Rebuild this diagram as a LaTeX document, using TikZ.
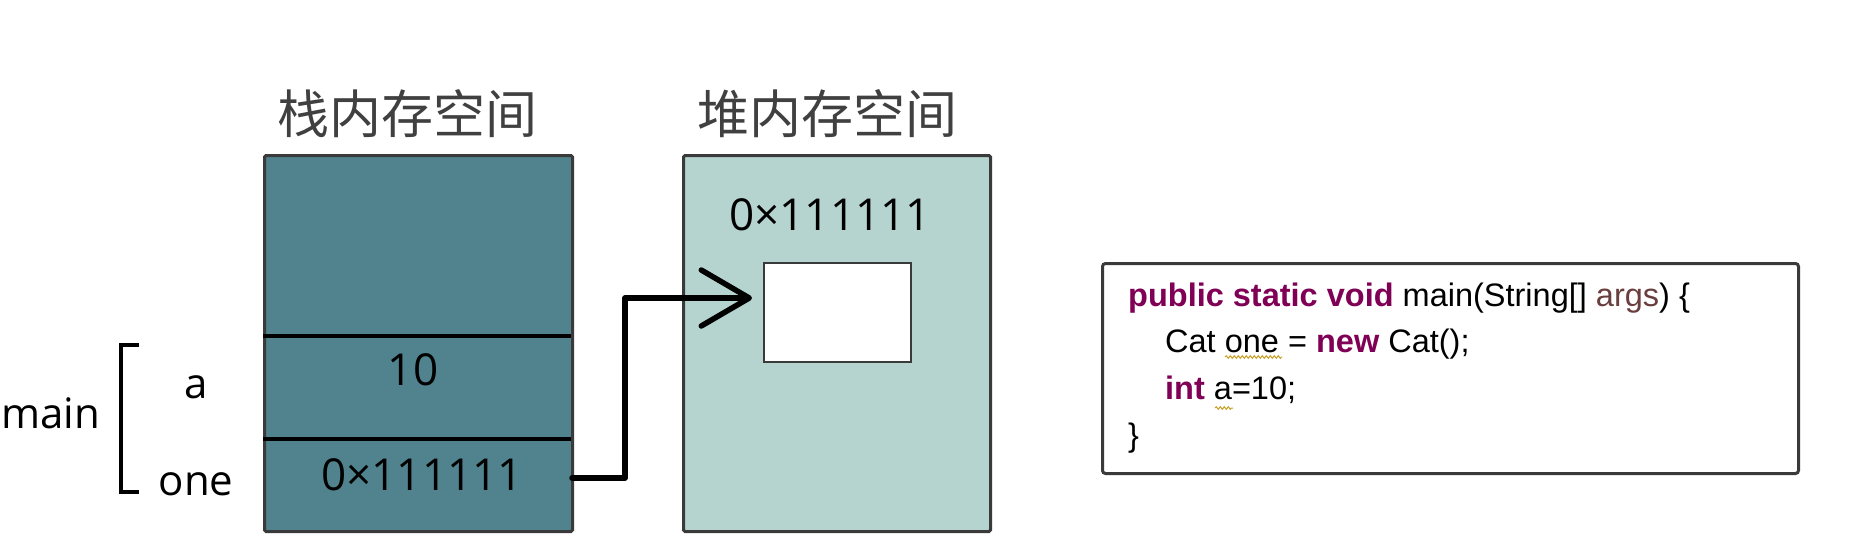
\documentclass[tikz,border=0pt]{standalone}
\usepackage{fontspec}
\usetikzlibrary{arrows.meta,decorations.pathmorphing}
\newfontfamily\cjk{Noto Sans CJK SC}
\newfontfamily\lab{Open Sans}
\newfontfamily\codef{Liberation Sans}
\definecolor{stackfill}{HTML}{50838D}
\definecolor{heapfill}{HTML}{B5D4D0}
\definecolor{framec}{HTML}{3A3A3A}
\definecolor{kw}{HTML}{7F0055}
\definecolor{varc}{HTML}{6A3E3E}
\definecolor{warn}{HTML}{C9A227}
\definecolor{titlec}{HTML}{404040}
\begin{document}
\begin{tikzpicture}[x=1pt,y=-1pt,
  mem/.style={draw=framec, line width=3pt, rounded corners=1.5pt, inner sep=0pt, anchor=north west},
  ttl/.style={font=\cjk\fontsize{52}{60}\selectfont, text=titlec, inner sep=0pt},
  lbl/.style={font=\lab\fontsize{42}{50}\selectfont, inner sep=0pt, anchor=base},
  val/.style={font=\lab\fontsize{44}{52}\selectfont, inner sep=0pt},
  codeline/.style={font=\codef\fontsize{32.5}{40}\selectfont, inner sep=0pt, anchor=base west},
  divider/.style={line width=3.5pt, black},
  ptrarrow/.style={line width=5.5pt, line cap=round, line join=round, -{Straight Barb[length=48pt, width=56pt, line cap=round, line join=round]}},
  squig/.style={warn, line width=1pt, decorate, decoration={snake, amplitude=1.3pt, segment length=4pt}}]
\fill[white] (0,0) rectangle (1861,538);
\useasboundingbox (0,0) rectangle (1861,538);

% titles
\node[ttl] (stitle) at (407,113.5) {栈内存空间};
\node[ttl] (htitle) at (827,113.5) {堆内存空间};

% stack
\node[mem, fill=stackfill, minimum width=308pt, minimum height=376pt] (stack) at (263,154) {};
\draw[divider] (263,336) -- (571,336);
\draw[divider] (263,439) -- (571,439);
\node[val] (v10) at (413,370) {10};
\node[val] (vref) at (422,475) {0×111111};

% heap
\node[mem, fill=heapfill, minimum width=307pt, minimum height=376pt] (heap) at (682,154) {};
\node[val] (haddr) at (830,215) {0×111111};
\node[draw=framec, line width=2pt, fill=white, inner sep=0pt, minimum width=147pt, minimum height=99pt, anchor=north west] (obj) at (763,262) {};

% labels and bracket
\node[lbl] (mainlbl) at (51,428) {main};
\node[lbl] (albl) at (196,398) {a};
\node[lbl] (onelbl) at (196,495) {one};
\draw[line width=4pt] (139,345) -- (121,345) -- (121,492) -- (139,492);

% pointer arrow
\coordinate (ptr) at (572,478);
\coordinate (tgt) at (752,298);
\draw[ptrarrow] (ptr) -- (625,478) -- (625,298) -- (tgt);

% code box
\node[draw=framec, line width=3pt, rounded corners=3pt, fill=white, inner sep=0pt, minimum width=696pt, minimum height=210pt, anchor=north west] (codebox) at (1101,262) {};
\node[codeline] (c1) at (1128,306) {\textbf{\color{kw}public static void} main(String[] {\color{varc}args}) \{};
\node[codeline] (c2) at (1165,352) {Cat one = \textbf{\color{kw}new} Cat();};
\node[codeline] (c3) at (1165,399) {\textbf{\color{kw}int} a=10;};
\node[codeline] (c4) at (1128,446) {\}};
\draw[squig] (1225,357) -- (1282,357);
\draw[squig] (1215,408) -- (1233,408);
\end{tikzpicture}
\end{document}
